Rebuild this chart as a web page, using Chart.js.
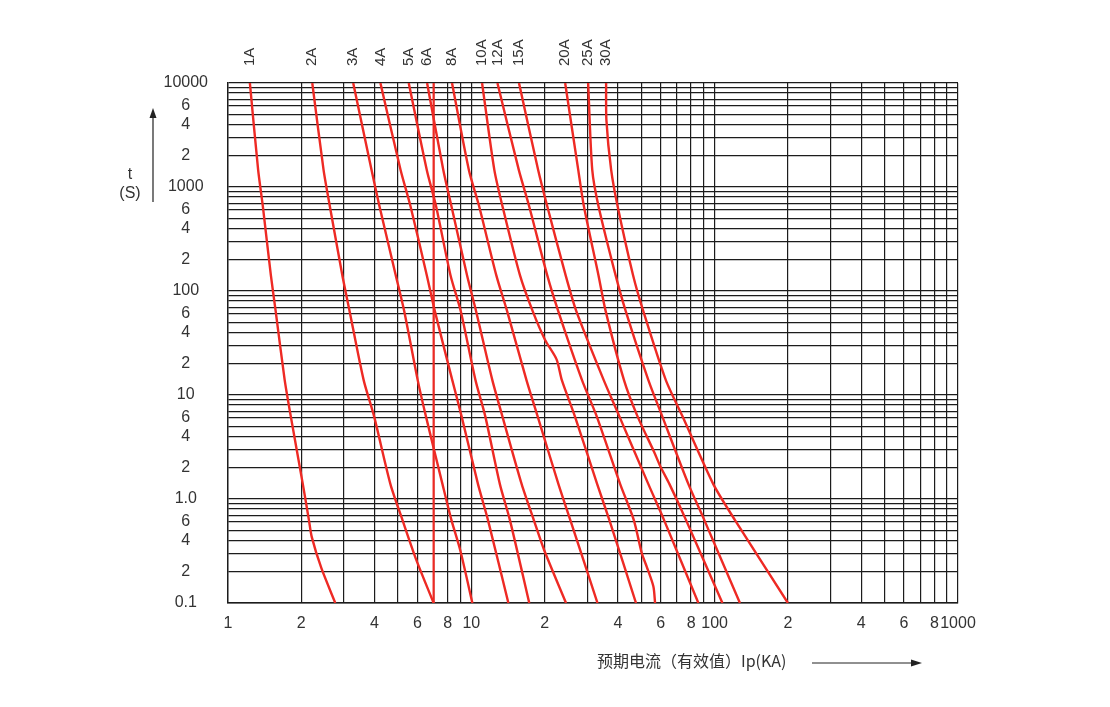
<!DOCTYPE html>
<html lang="zh">
<head>
<meta charset="utf-8">
<title>熔断器时间-电流特性曲线</title>
<script src="https://cdn.jsdelivr.net/npm/chart.js@4.4.1/dist/chart.umd.min.js"></script>
<style>
  html, body { margin: 0; padding: 0; background: #fff; }
  #wrap { width: 1110px; height: 707px; position: relative; }
</style>
</head>
<body>
<div id="wrap"><canvas id="fuseChart"></canvas></div>
<script>
// fuse ratings, one curve each
const ratings = ["1A", "2A", "3A", "4A", "5A", "6A", "8A", "10A", "12A", "15A", "20A", "25A", "30A"];

// [current, time in s], from top to bottom
const curve1A = [[1.23, 10000], [1.33, 1460], [1.39, 657], [1.50, 142], [1.57, 64], [1.71, 13.9], [1.81, 6.3], [2.03, 1.39], [2.15, 0.63], [2.21, 0.43], [2.42, 0.216], [2.76, 0.1]];
const curve2A = [[2.22, 10000], [2.47, 1460], [2.62, 657], [2.95, 142], [3.16, 64], [3.61, 13.9], [3.98, 6.3], [4.65, 1.39], [5.21, 0.63], [5.94, 0.26], [7.0, 0.1]];
const curve3A = [[3.27, 10000], [3.89, 1460], [4.19, 657], [4.89, 142], [5.30, 64], [6.02, 13.9], [6.5, 6.3], [7.61, 1.39], [8.28, 0.63], [9.01, 0.32], [10.1, 0.1]];
const curve4A = [[4.23, 10000], [5.12, 1460], [5.62, 657], [6.56, 142], [7.08, 64], [8.35, 13.9], [9.11, 6.3], [10.65, 1.39], [11.7, 0.63], [14.2, 0.1]];
const curve5A = [[5.53, 10000], [6.56, 1460], [7.16, 657], [8.21, 142], [9.05, 64], [10.4, 13.9], [11.4, 6.3], [13.1, 1.39], [14.4, 0.63], [17.3, 0.1]];
const curve6A = [[6.58, 10000], [7.67, 1460], [8.28, 657], [9.60, 142], [10.46, 64], [12.2, 13.9], [13.4, 6.3], [16.1, 1.39], [18.05, 0.63], [19.95, 0.32], [24.5, 0.1]];
const curve8A = [[8.33, 10000], [9.77, 1460], [10.76, 657], [12.66, 142], [14.03, 64], [16.85, 13.9], [18.7, 6.3], [22.8, 1.39], [25.5, 0.63], [33.0, 0.1]];
const curve10A = [[11.07, 10000], [12.43, 1460], [13.42, 657], [15.84, 142], [17.87, 64], [20.1, 33.8], [22.4, 22], [23.55, 13.9], [26.6, 6.3], [32.9, 1.39], [36.9, 0.63], [47.5, 0.1]];
const curve12A = [[12.8, 10000], [15.67, 1460], [17.27, 657], [20.5, 142], [22.76, 64], [28.5, 13.9], [32.7, 6.3], [40.9, 1.39], [46.5, 0.63], [50.2, 0.30], [52.6, 0.223], [56.0, 0.144], [56.9, 0.1]];
const curve15A = [[15.7, 10000], [18.82, 1460], [20.5, 657], [24.4, 142], [27.0, 64], [35.0, 13.9], [40.5, 6.3], [53.4, 1.39], [61.9, 0.63], [85.7, 0.1]];
const curve20A = [[24.3, 10000], [27.5, 1460], [29.0, 657], [33.3, 142], [35.65, 64], [42.4, 13.9], [48.1, 6.3], [56.4, 2.83], [59.7, 2.08], [65.2, 1.39], [76.2, 0.63], [107.6, 0.1]];
const curve25A = [[30.2, 10000], [31.4, 1460], [33.3, 657], [39.15, 142], [43.1, 64], [53.4, 13.9], [60.8, 6.3], [78.0, 1.39], [90.6, 0.63], [127, 0.1]];
const curve30A = [[35.8, 10000], [35.9, 4400], [37.55, 1460], [39.9, 657], [46.2, 142], [50.9, 64], [63.0, 13.9], [73.6, 6.3], [98.7, 1.39], [121, 0.63], [200, 0.1]];
const curves = [curve1A, curve2A, curve3A, curve4A, curve5A, curve6A, curve8A, curve10A, curve12A, curve15A, curve20A, curve25A, curve30A];

// the straight red line standing at 7 across the whole sheet
const line7 = [[7, 10000], [7, 0.1]];

// tick labels
const xTickValues = [1, 2, 4, 6, 8, 10, 20, 40, 60, 80, 100, 200, 400, 600, 800, 1000];
const xTickLabels = ["1", "2", "4", "6", "8", "10", "2", "4", "6", "8", "100", "2", "4", "6", "8", "1000"];
const yTickValues = [10000, 6000, 4000, 2000, 1000, 600, 400, 200, 100, 60, 40, 20, 10, 6, 4, 2, 1, 0.6, 0.4, 0.2, 0.1];
const yTickLabels = ["10000", "6", "4", "2", "1000", "6", "4", "2", "100", "6", "4", "2", "10", "6", "4", "2", "1.0", "6", "4", "2", "0.1"];

const RED = "#ee2a24";
const INK = "#333";
const GRID = "#1c1c1c";

// log grid: 1..9 in every decade between lo and hi
function logGrid(loExp, hiExp) {
  const vals = [];
  for (let e = loExp; e < hiExp; e++) {
    for (let m = 1; m <= 9; m++) vals.push(m * Math.pow(10, e));
  }
  vals.push(Math.pow(10, hiExp));
  return vals;
}

function labelFor(value, values, labels) {
  const i = values.findIndex((v) => Math.abs(Math.log10(v) - Math.log10(value)) < 1e-6);
  return i >= 0 ? labels[i] : "";
}

const toPoints = (arr) => arr.map((p) => ({ x: p[0], y: p[1] }));

const datasets = curves.map((c, i) => ({
  label: ratings[i],
  data: toPoints(c),
  showLine: true,
  borderColor: RED,
  borderWidth: 2.4,
  pointRadius: 0,
  tension: 0.25,
  fill: false,
}));
datasets.push({
  label: "7",
  data: toPoints(line7),
  showLine: true,
  borderColor: RED,
  borderWidth: 2.2,
  pointRadius: 0,
  fill: false,
});

// rating labels, axis titles and the arrows
const annotate = {
  id: "annotate",
  afterDraw(chart) {
    const ctx = chart.ctx;
    const xs = chart.scales.x;
    ctx.save();
    ctx.fillStyle = INK;

    ctx.font = '15px "Liberation Sans", Arial, sans-serif';
    ctx.textAlign = "left";
    ctx.textBaseline = "middle";
    ratings.forEach((r, i) => {
      const px = xs.getPixelForValue(curves[i][0][0]);
      ctx.save();
      ctx.translate(px, 66);
      ctx.rotate(-Math.PI / 2);
      ctx.fillText(r, 0, 0);
      ctx.restore();
    });

    // y title
    ctx.font = '16px "Liberation Sans", Arial, sans-serif';
    ctx.textAlign = "center";
    ctx.fillText("t", 130, 175);
    ctx.fillText("(S)", 130, 194);

    // x title
    ctx.font = '16px "Noto Sans CJK SC", sans-serif';
    ctx.textAlign = "left";
    ctx.fillText("预期电流（有效值）Ip(KA)", 597, 661);

    // arrows
    ctx.strokeStyle = "#222";
    ctx.lineWidth = 1.2;
    ctx.beginPath();
    ctx.moveTo(153, 202);
    ctx.lineTo(153, 116);
    ctx.moveTo(812, 663);
    ctx.lineTo(913, 663);
    ctx.stroke();
    ctx.fillStyle = "#222";
    ctx.beginPath();
    ctx.moveTo(153, 108);
    ctx.lineTo(149.5, 118);
    ctx.lineTo(156.5, 118);
    ctx.closePath();
    ctx.fill();
    ctx.beginPath();
    ctx.moveTo(922, 663);
    ctx.lineTo(911, 659.5);
    ctx.lineTo(911, 666.5);
    ctx.closePath();
    ctx.fill();
    ctx.restore();
  },
};

const tickFont = { family: '"Liberation Sans", Arial, sans-serif', size: 16 };

new Chart(document.getElementById("fuseChart"), {
  type: "scatter",
  data: { datasets },
  options: {
    responsive: true,
    maintainAspectRatio: false,
    animation: false,
    layout: { padding: { left: 158, right: 152, top: 83, bottom: 74 } },
    plugins: { legend: { display: false }, tooltip: { enabled: false } },
    scales: {
      x: {
        type: "logarithmic",
        min: 1,
        max: 1000,
        afterBuildTicks: (axis) => {
          axis.ticks = logGrid(0, 3).map((v) => ({ value: v }));
        },
        afterFit: (axis) => {
          axis.height = 30;
        },
        ticks: {
          autoSkip: false,
          maxRotation: 0,
          padding: 11,
          color: INK,
          font: tickFont,
          callback: (v) => labelFor(v, xTickValues, xTickLabels),
        },
        grid: { color: GRID, lineWidth: 1.2, drawTicks: false },
        border: { color: GRID, width: 1.4 },
      },
      y: {
        type: "logarithmic",
        min: 0.1,
        max: 10000,
        afterBuildTicks: (axis) => {
          axis.ticks = logGrid(-1, 4).map((v) => ({ value: v }));
        },
        afterFit: (axis) => {
          axis.width = 70;
        },
        ticks: {
          autoSkip: false,
          crossAlign: "center",
          padding: 20,
          color: INK,
          font: tickFont,
          callback: (v) => labelFor(v, yTickValues, yTickLabels),
        },
        grid: { color: GRID, lineWidth: 1.2, drawTicks: false },
        border: { color: GRID, width: 1.4 },
      },
    },
  },
  plugins: [annotate],
});
</script>
</body>
</html>
